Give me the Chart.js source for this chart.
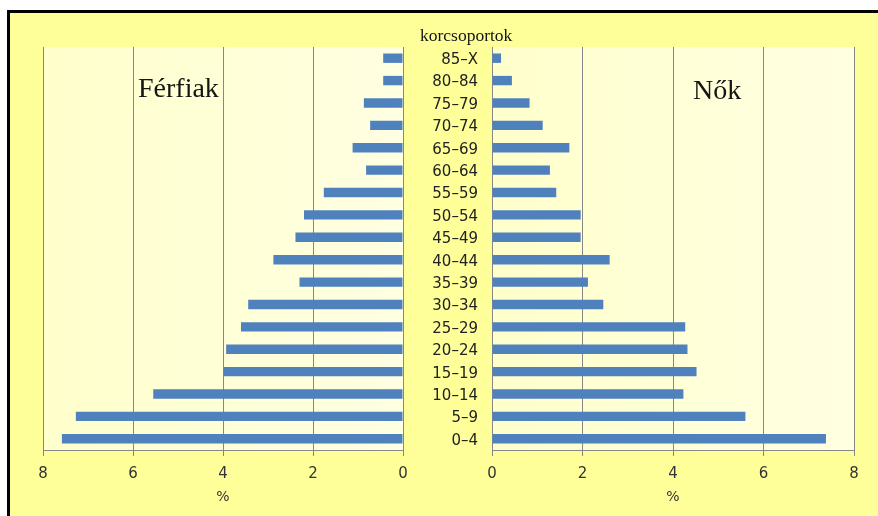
<!DOCTYPE html>
<html>
<head>
<meta charset="utf-8">
<script src="https://cdn.jsdelivr.net/npm/chart.js@4"></script>
<style>
  html, body { margin: 0; padding: 0; background: #fff; }
  #wrap { position: relative; width: 878px; height: 516px; overflow: hidden; }
  #frame {
    position: absolute; left: 7px; top: 10px; width: 900px; height: 520px;
    border-top: 3px solid #000; border-left: 3px solid #000; background: #FFFF9A;
  }
  canvas { position: absolute; left: 0; top: 0; }
  .lbl { position: absolute; font-family: "Liberation Serif", serif; color: #151515; white-space: nowrap; line-height: 1; }
</style>
</head>
<body>
<div id="wrap">
  <div id="frame"></div>
  <canvas id="menChart" width="878" height="516"></canvas>
  <canvas id="womenChart" width="878" height="516"></canvas>
  <div class="lbl" style="left:420px; top:27px; font-size:17.5px;">korcsoportok</div>
  <div class="lbl" style="left:138px; top:74px; font-size:28px;">Férfiak</div>
  <div class="lbl" style="left:693px; top:76px; font-size:28px;">Nők</div>
</div>
<script>
// age groups, top to bottom as in the picture
const ageGroups = ['85–X', '80–84', '75–79', '70–74', '65–69', '60–64', '55–59', '50–54', '45–49',
  '40–44', '35–39', '30–34', '25–29', '20–24', '15–19', '10–14', '5–9', '0–4']
// share of population, %
const men = [0.44, 0.44, 0.87, 0.73, 1.12, 0.82, 1.76, 2.2, 2.39, 2.88, 2.3, 3.44, 3.6, 3.93, 3.99, 5.55, 7.27, 7.58]
const women = [0.2, 0.44, 0.83, 1.12, 1.71, 1.28, 1.42, 1.96, 1.96, 2.6, 2.12, 2.46, 4.27, 4.32, 4.52, 4.23, 5.6, 7.38]
const xTicks = [0, 2, 4, 6, 8]

const barColor = '#4F81BD'
const gridColor = '#878787'
const tickFont = { family: '"DejaVu Sans", Verdana, sans-serif', size: 15 }

// light plot background behind the bars
const plotBg = {
  id: 'plotBg',
  beforeDraw(chart) {
    const { ctx, chartArea: a } = chart
    const g = ctx.createLinearGradient(a.left, 0, a.right, 0)
    g.addColorStop(0, '#FFFFCC')
    g.addColorStop(1, '#FFFFE2')
    ctx.save()
    ctx.fillStyle = g
    ctx.fillRect(a.left, a.top, a.width, a.height)
    ctx.restore()
  }
}

function makeChart(canvasId, values, isLeft) {
  const ctx = document.getElementById(canvasId).getContext('2d')
  return new Chart(ctx, {
    type: 'bar',
    data: {
      labels: ageGroups,
      datasets: [{
        data: values,
        backgroundColor: barColor,
        borderWidth: 0,
        categoryPercentage: 1,
        barPercentage: 0.42
      }]
    },
    options: {
      indexAxis: 'y',
      responsive: false,
      animation: false,
      layout: {
        padding: isLeft
          ? { left: 43, right: 475, top: 47, bottom: 6 }
          : { left: 412, right: 24, top: 47, bottom: 6 }
      },
      plugins: { legend: { display: false }, tooltip: { enabled: false } },
      scales: {
        x: {
          reverse: isLeft,
          min: 0,
          max: 8,
          afterBuildTicks: (scale) => { scale.ticks = xTicks.map(v => ({ value: v })) },
          afterFit: (scale) => { scale.height = 60 },
          grid: { color: gridColor, tickLength: 6, drawOnChartArea: true },
          border: { display: true, color: gridColor },
          ticks: { font: tickFont, color: '#333', padding: 9 },
          title: { display: true, text: '%', font: { family: tickFont.family, size: 14 }, color: '#333', padding: { top: 4, bottom: 4 } }
        },
        y: {
          display: !isLeft,
          afterFit: (scale) => { scale.width = isLeft ? 0 : 80 },
          grid: { display: false, drawTicks: false },
          border: { display: true, color: gridColor },
          ticks: { font: tickFont, color: '#222', padding: 14, labelOffset: 2 }
        }
      }
    },
    plugins: [plotBg]
  })
}

makeChart('menChart', men, true)
makeChart('womenChart', women, false)
</script>
</body>
</html>
